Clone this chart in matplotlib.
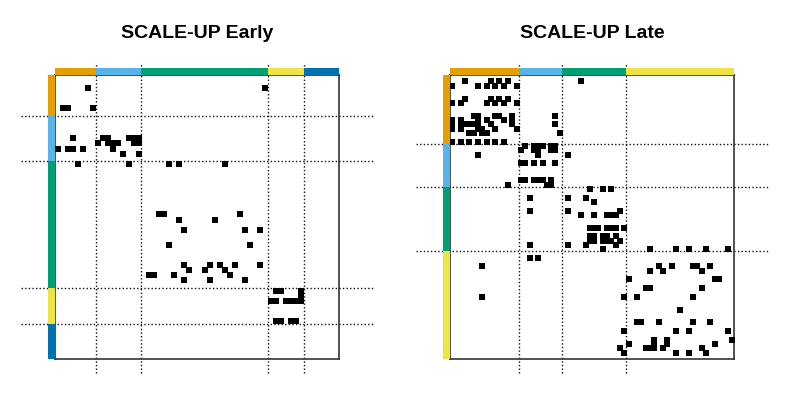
import matplotlib
matplotlib.use('Agg')
import matplotlib.pyplot as plt
from matplotlib.patches import Rectangle

plt.rcParams['font.family'] = ['Liberation Sans', 'DejaVu Sans']

# community colours (Okabe-Ito)
orange, skyblue, green, yellow, blue = '#E69F00', '#56B4E9', '#009E73', '#F0E442', '#0072B2'

early_sizes = [8, 9, 25, 7, 7]
early_colors = [orange, skyblue, green, yellow, blue]
late_sizes = [16, 10, 15, 25]
late_colors = [orange, skyblue, green, yellow]

# (row, [columns]) of the non-zero cells
early_cells = [
    (2, [6, 41]),
    (6, [1, 2, 7]),
    (12, [3, 9, 10, 14, 15, 16]),
    (13, [8, 10, 11, 12, 15, 16]),
    (14, [0, 2, 3, 5, 11]),
    (15, [13, 16]),
    (17, [4, 14, 22, 24, 33]),
    (27, [20, 21, 36]),
    (28, [24, 31]),
    (30, [25, 37, 40]),
    (33, [22, 38]),
    (37, [25, 30, 32, 35, 40]),
    (38, [26, 29, 33]),
    (39, [18, 19, 23, 34]),
    (40, [25, 30, 37]),
    (42, [43, 44, 48]),
    (43, [48]),
    (44, [42, 43, 45, 46, 47, 48]),
    (48, [43, 44, 46, 47]),
]

late_cells = [
    (1, [3, 9, 11, 13, 30]),
    (2, [0, 6, 8, 10, 12, 15]),
    (5, [3, 9, 11, 13]),
    (6, [0, 2, 8, 10, 12, 15]),
    (9, [5, 6, 10, 11, 14, 24]),
    (10, [0, 2, 6, 8, 12, 14]),
    (11, [0, 2, 3, 4, 5, 6, 9, 14, 24]),
    (12, [0, 2, 6, 7, 10, 15]),
    (13, [4, 5, 7, 8, 25]),
    (15, [0, 2, 4, 6, 8, 10, 12]),
    (16, [17, 19, 20, 21, 23, 24]),
    (17, [16, 19, 20, 23, 24]),
    (18, [6, 20, 27]),
    (20, [16, 17, 19, 21, 24]),
    (24, [16, 17, 19, 20, 21, 23]),
    (25, [13, 22, 23]),
    (26, [32, 35, 37]),
    (28, [18, 27, 31]),
    (29, [33]),
    (31, [18, 27, 39]),
    (32, [30, 33, 36, 37, 38]),
    (35, [32, 33, 34, 36, 37, 38, 40]),
    (37, [32, 33, 35, 36, 38]),
    (38, [32, 33, 35, 36, 37, 39]),
    (39, [18, 27, 31, 38]),
    (40, [35, 46, 52, 55, 59, 64]),
    (42, [18, 20]),
    (44, [7, 48, 51, 56, 57, 60]),
    (45, [46, 49, 58]),
    (47, [41, 61, 62]),
    (49, [45, 46, 58]),
    (51, [7, 40, 43, 56]),
    (54, [53]),
    (57, [43, 44, 48, 56, 60]),
    (59, [40, 52, 55, 64]),
    (61, [47, 50, 65]),
    (62, [41, 47, 50, 61]),
    (63, [39, 45, 46, 47, 49, 58]),
    (64, [40, 52, 55, 59]),
]


def draw_matrix(ax, sizes, colors, cells, title, ms):
    n = sum(sizes)
    ax.set_xlim(0, n)
    ax.set_ylim(n, 0)
    ax.set_xticks([])
    ax.set_yticks([])
    for s in ax.spines.values():
        s.set_color('#333333')
        s.set_linewidth(1.2)

    rows = [r + 0.5 for r, cs in cells for c in cs]
    cols = [c + 0.5 for r, cs in cells for c in cs]
    ax.plot(cols, rows, 's', color='black', markersize=ms,
            markeredgewidth=0, zorder=4)

    bounds = [sum(sizes[:i]) for i in range(len(sizes) + 1)]
    dots = dict(color='#111111', lw=1.0, ls=(0, (1.0, 1.6)), clip_on=False, zorder=1)
    for b in bounds[1:-1]:
        ax.plot([b, b], [-0.05, 1.042], transform=ax.get_xaxis_transform(), **dots)
        ax.plot([-0.12, 1.12], [b, b], transform=ax.get_yaxis_transform(), **dots)

    t = 7 / 284
    for b0, sz, col in zip(bounds[:-1], sizes, colors):
        ax.add_patch(Rectangle((b0, 1.0), sz, t, transform=ax.get_xaxis_transform(),
                               facecolor=col, edgecolor='none', clip_on=False, zorder=3))
        ax.add_patch(Rectangle((-t, b0), t, sz, transform=ax.get_yaxis_transform(),
                               facecolor=col, edgecolor='none', clip_on=False, zorder=3))

    ax.set_title(title, fontsize=14, fontweight='bold', pad=27)


fig = plt.figure(figsize=(7.89, 3.95), dpi=100)
ax1 = fig.add_axes([55 / 789, 36 / 395, 284 / 789, 284 / 395])
ax2 = fig.add_axes([450 / 789, 36 / 395, 284 / 789, 284 / 395])

draw_matrix(ax1, early_sizes, early_colors, early_cells, 'SCALE-UP Early', 4.0)
draw_matrix(ax2, late_sizes, late_colors, late_cells, 'SCALE-UP Late', 3.7)

fig.savefig('out.png', dpi=100)
